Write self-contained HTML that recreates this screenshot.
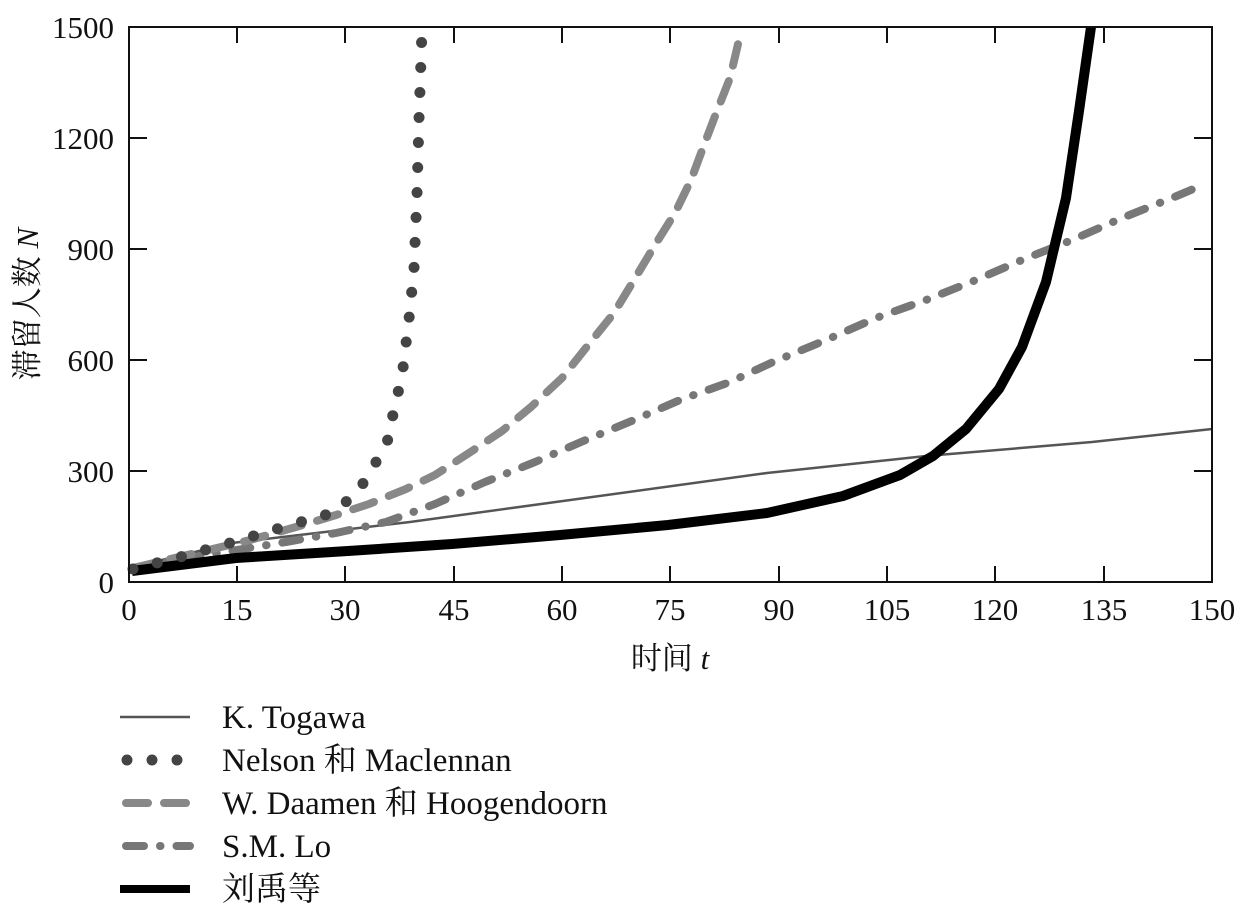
<!DOCTYPE html>
<html><head><meta charset="utf-8"><style>
body{margin:0;background:#fff}
svg text{font-family:"Liberation Serif","Noto Serif CJK SC","Noto Sans CJK SC",serif;fill:#111}
</style></head><body>
<svg width="1245" height="916" viewBox="0 0 1245 916" xmlns="http://www.w3.org/2000/svg">
<rect width="1245" height="916" fill="#fff"/>
<g fill="none" stroke-linejoin="round">
<polyline stroke="#555" stroke-width="2.5" points="133,567 232,543 410,522 767,473 926,456 1092,442 1212,429"/>
<polyline stroke="#777" stroke-width="8" stroke-linecap="round" stroke-dasharray="18 16 0.5 16" points="133,568 200,556 286,542 336,533 386,522 435,504 485,482 535,462 581,442 634,420 680,400 730,382 773,362 826,340 876,318 926,300 976,280 1022,260 1072,240 1122,218 1172,198 1198,187"/>
<polyline stroke="#888" stroke-width="8" stroke-linecap="round" stroke-dasharray="22 16" points="133,568 200,552 250,540 303,525 336,515 369,504 406,489 435,475 469,453 502,431 531,407 562,378 589,344 614,313 634,280 655,245 675,213 691,180 704,145 717,111 730,78 739,40"/>
<polyline stroke="#000" stroke-width="10" points="132,571 236,558 348,551 452,544 560,535 668,525 767,513 843,496 900,475 933,456 966,429 999,389 1022,347 1046,282 1066,198 1079,111 1091,27"/>
<polyline stroke="#444" stroke-width="11" stroke-linecap="round" stroke-dasharray="0 25" points="133,569 180,557 230,543 280,528 332,513 357,493 372,469 387,443 392,419 398,393 403,368 409,319 414,269 417,194 419,119 422,30"/>
</g>
<rect x="129" y="27" width="1083" height="555" fill="none" stroke="#111" stroke-width="2"/>
<g stroke="#111" stroke-width="2">
<path d="M237,582v-16M345,582v-16M454,582v-16M562,582v-16M670,582v-16M779,582v-16M887,582v-16M995,582v-16M1104,582v-16"/>
<path d="M237,27v16M345,27v16M454,27v16M562,27v16M670,27v16M779,27v16M887,27v16M995,27v16M1104,27v16"/>
<path d="M129,471h18M129,360h18M129,249h18M129,138h18"/>
<path d="M1212,471h-18M1212,360h-18M1212,249h-18M1212,138h-18"/>
</g>
<g font-size="31" text-anchor="end">
<text x="114" y="593">0</text><text x="114" y="482">300</text><text x="114" y="371">600</text><text x="114" y="260">900</text><text x="114" y="149">1200</text><text x="114" y="38">1500</text>
</g>
<g font-size="31" text-anchor="middle">
<text x="129" y="620">0</text><text x="237" y="620">15</text><text x="345" y="620">30</text><text x="454" y="620">45</text><text x="562" y="620">60</text><text x="670" y="620">75</text><text x="779" y="620">90</text><text x="887" y="620">105</text><text x="995" y="620">120</text><text x="1104" y="620">135</text><text x="1212" y="620">150</text>
</g>
<text x="670" y="669" font-size="31" text-anchor="middle">时间 <tspan font-style="italic">t</tspan></text>
<text transform="translate(38,304) rotate(-90)" font-size="31" text-anchor="middle">滞留人数 <tspan font-style="italic">N</tspan></text>
<g fill="none">
<line x1="120" y1="717" x2="190" y2="717" stroke="#555" stroke-width="2.5"/>
<line x1="127" y1="760" x2="185" y2="760" stroke="#444" stroke-width="11" stroke-linecap="round" stroke-dasharray="0 25"/>
<line x1="126" y1="803" x2="190" y2="803" stroke="#888" stroke-width="8" stroke-linecap="round" stroke-dasharray="22 16"/>
<line x1="126" y1="846" x2="190" y2="846" stroke="#777" stroke-width="8" stroke-linecap="round" stroke-dasharray="18 16 0.5 16"/>
<line x1="120" y1="889" x2="190" y2="889" stroke="#000" stroke-width="8"/>
</g>
<g font-size="33">
<text x="222" y="728">K. Togawa</text>
<text x="222" y="771">Nelson 和 Maclennan</text>
<text x="222" y="814">W. Daamen 和 Hoogendoorn</text>
<text x="222" y="857">S.M. Lo</text>
<text x="222" y="900">刘禹等</text>
</g>
</svg>
</body></html>
